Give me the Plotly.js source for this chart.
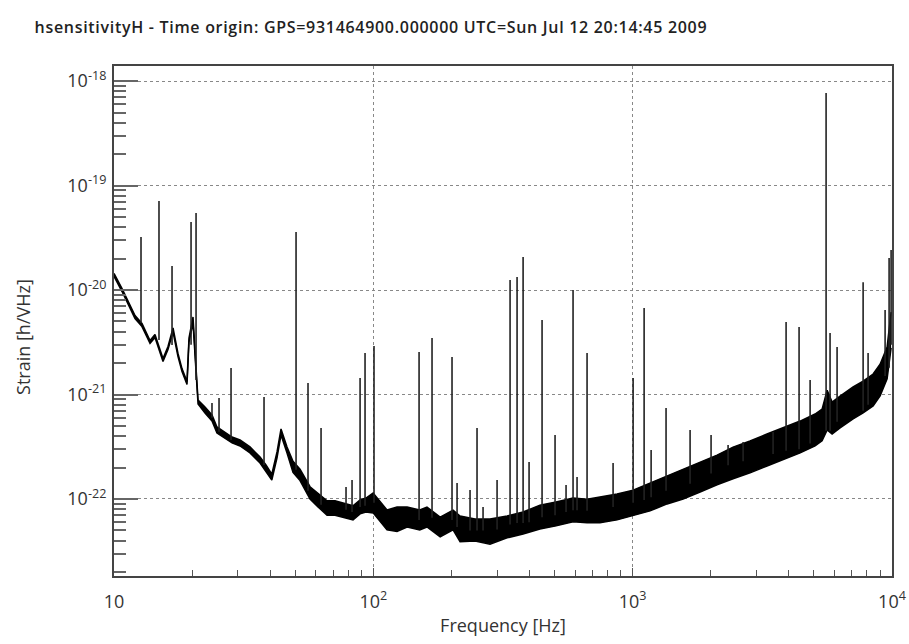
<!DOCTYPE html>
<html>
<head>
<meta charset="utf-8">
<script src="https://cdn.plot.ly/plotly-3.0.1.min.js"></script>
<style>html,body{margin:0;padding:0;background:#fff;}#chart{width:909px;height:644px;}
#chart .gtitle{letter-spacing:0.7px;}</style>
</head>
<body>
<div id="chart"></div>
<script>
// Noise floor band (frequency in Hz, lower and upper edge of the band in strain/sqrt(Hz))
const floorFreq = [10.0, 10.74, 12.05, 12.82, 13.77, 14.39, 15.45, 16.15, 16.89, 17.65, 18.29, 19.12, 19.46, 20.17, 20.72, 21.09,
  22.43, 23.87, 24.95, 26.80, 28.52, 30.62, 33.45, 36.57, 38.56, 40.6, 42.52, 44.06, 46.47, 49.0, 52.16, 57.0,
  61.19, 66.3, 71.16, 76.4, 83.5, 88.9, 93.7, 99.8, 106.1, 112.9, 123.4, 135, 151, 161, 181, 203, 216, 246.7,
  281.8, 328, 378, 439, 506.6, 589, 667, 748, 871, 1004, 1167, 1358, 1565, 1820, 2116, 2439, 2836, 3297, 3802,
  4424, 5051, 5375, 5623, 5875, 6307, 7080, 7738, 8457, 8997, 9575, 9920];
const floorLow = [1.35e-20, 9.67e-21, 5.34e-21, 4.47e-21, 3.08e-21, 3.51e-21, 2.07e-21, 2.70e-21, 3.96e-21, 2.31e-21, 1.66e-21, 1.25e-21, 3.18e-21, 4.83e-21, 1.64e-21, 8.11e-22,
  6.65e-22, 5.58e-22, 4.28e-22, 3.84e-22, 3.44e-22, 3.22e-22, 2.76e-22, 2.21e-22, 1.85e-22, 1.52e-22, 2.47e-22, 4.10e-22, 2.76e-22, 1.80e-22, 1.50e-22, 1.0e-22,
  8.4e-23, 7.0e-23, 7.0e-23, 6.7e-23, 6.3e-23, 7.2e-23, 7.5e-23, 7.36e-23, 6.04e-23, 5.06e-23, 4.9e-23, 5.40e-23, 5.06e-23, 5.40e-23, 4.34e-23, 5.06e-23, 3.9e-23, 3.97e-23,
  3.7e-23, 4.25e-23, 4.63e-23, 5.17e-23, 5.53e-23, 6.04e-23, 5.91e-23, 5.91e-23, 6.31e-23, 6.89e-23, 7.69e-23, 8.97e-23, 1.0e-22, 1.165e-22, 1.37e-22, 1.56e-22, 1.78e-22, 2.07e-22, 2.37e-22,
  2.76e-22, 3.22e-22, 3.60e-22, 4.58e-22, 4.19e-22, 4.79e-22, 5.84e-22, 6.66e-22, 7.78e-22, 9.70e-22, 1.41e-21, 2.79e-21];
const floorHigh = [1.44e-20, 1.034e-20, 5.70e-21, 4.78e-21, 3.29e-21, 3.75e-21, 2.21e-21, 2.88e-21, 4.33e-21, 2.47e-21, 1.77e-21, 1.33e-21, 3.47e-21, 5.52e-21, 1.79e-21, 8.86e-22,
  7.59e-22, 6.37e-22, 4.89e-22, 4.38e-22, 3.92e-22, 3.67e-22, 3.15e-22, 2.52e-22, 2.12e-22, 1.73e-22, 2.82e-22, 4.68e-22, 3.15e-22, 2.30e-22, 1.93e-22, 1.31e-22,
  1.14e-22, 9.6e-23, 9.6e-23, 9.2e-23, 8.6e-23, 9.8e-23, 1.02e-22, 1.14e-22, 9.34e-23, 7.84e-23, 8.37e-23, 8.37e-23, 7.84e-23, 8.37e-23, 6.71e-23, 7.84e-23, 6.87e-23, 6.42e-23,
  6.42e-23, 6.87e-23, 7.50e-23, 8.74e-23, 9.34e-23, 1.02e-22, 9.97e-23, 1.043e-22, 1.114e-22, 1.216e-22, 1.417e-22, 1.657e-22, 1.93e-22, 2.26e-22, 2.63e-22, 3.14e-22, 3.59e-22, 4.19e-22, 4.77e-22,
  5.57e-22, 6.50e-22, 7.25e-22, 1.10e-21, 8.46e-22, 9.66e-22, 1.18e-21, 1.34e-21, 1.57e-21, 1.95e-21, 2.84e-21, 6.15e-21];

// Spectral lines: frequency (Hz), strain at the foot of the line, strain at the peak
const lineFreq = [12.71, 14.91, 16.74, 19.82, 20.72, 23.87, 25.41, 28.27, 37.89, 50.35, 55.99, 62.86, 78.47, 82.77, 88.9, 92.9, 100.6,
  150.1, 168.4, 201.1, 210.3, 236.0, 251.1, 264.9, 300.0, 336.7, 358.3, 378, 398.6, 447.3, 502.0, 553.5, 589, 610.3, 667,
  840.4, 1004, 1107, 1178, 1345, 1665, 2006, 2333, 2666, 3479, 3905, 4382, 4833, 5570, 5770, 6141, 7738, 8087, 9406, 9746, 9920];
const lineBase = [4.83e-21, 3.32e-21, 2.98e-21, 3.0e-21, 1.38e-21, 6.0e-22, 4.4e-22, 3.67e-22, 2.12e-22, 1.9e-22, 1.2e-22, 8.8e-23, 7.9e-23, 7.5e-23, 8.4e-23, 8.6e-23, 9.2e-23,
  6.3e-23, 6.6e-23, 6.3e-23, 5.4e-23, 5.0e-23, 5.0e-23, 5.0e-23, 5.1e-23, 5.7e-23, 5.9e-23, 5.9e-23, 6.0e-23, 6.7e-23, 7.0e-23, 7.5e-23, 7.8e-23, 7.8e-23, 7.7e-23,
  8.4e-23, 9.2e-23, 9.8e-23, 1.04e-22, 1.2e-22, 1.4e-22, 1.75e-22, 2.1e-22, 2.3e-22, 2.7e-22, 2.9e-22, 3.0e-22, 3.4e-22, 4.5e-22, 4.5e-22, 5.5e-22, 7.0e-22, 8.0e-22, 1.5e-21, 1.8e-21, 3.0e-21];
const linePeak = [3.22e-20, 7.11e-20, 1.70e-20, 4.47e-20, 5.46e-20, 8.29e-22, 9.26e-22, 1.79e-21, 9.46e-22, 3.59e-20, 1.29e-21, 4.78e-22, 1.30e-22, 1.52e-22, 1.44e-21, 2.50e-21, 2.91e-21,
  2.55e-21, 3.47e-21, 2.28e-21, 1.42e-22, 1.22e-22, 4.78e-22, 8.38e-23, 1.52e-22, 1.25e-20, 1.33e-20, 2.07e-20, 2.26e-22, 5.16e-21, 4.10e-22, 1.36e-22, 1.0e-20, 1.62e-22, 2.50e-21,
  2.21e-22, 1.44e-21, 6.73e-21, 2.94e-22, 7.43e-22, 4.57e-22, 4.10e-22, 3.29e-22, 3.51e-22, 4.38e-22, 4.94e-21, 4.43e-21, 1.38e-21, 7.68e-19, 3.88e-21, 2.85e-21, 1.19e-20, 2.50e-21, 6.44e-21, 2.02e-20, 2.41e-20];

const xTickVals = [10, 100, 1000, 10000];
const xTickText = ['10', '10<sup>2</sup>', '10<sup>3</sup>', '10<sup>4</sup>'];
const yTickVals = [1e-22, 1e-21, 1e-20, 1e-19, 1e-18];
const yTickText = ['10<sup>-22</sup>', '10<sup>-21</sup>', '10<sup>-20</sup>', '10<sup>-19</sup>', '10<sup>-18</sup>'];

function minorList(lo, hi) {
  const out = [];
  for (let e = lo; e <= hi; e++) for (let m = 2; m <= 9; m++) out.push(m * Math.pow(10, e));
  return out;
}

const sx = [], sy = [];
for (let i = 0; i < lineFreq.length; i++) {
  sx.push(lineFreq[i], lineFreq[i], null);
  sy.push(lineBase[i], linePeak[i], null);
}

const traces = [
  {x: floorFreq, y: floorLow, type: 'scatter', mode: 'lines', line: {color: '#000', width: 1.5}, hoverinfo: 'skip', showlegend: false},
  {x: floorFreq, y: floorHigh, type: 'scatter', mode: 'lines', line: {color: '#000', width: 1.5}, fill: 'tonexty', fillcolor: '#000', hoverinfo: 'skip', showlegend: false},
  {x: sx, y: sy, type: 'scatter', mode: 'lines', line: {color: '#222', width: 1.6}, connectgaps: false, hoverinfo: 'skip', showlegend: false}
];

const font = 'Open Sans, Noto Sans, sans-serif';
const layout = {
  width: 909, height: 644,
  margin: {l: 114, r: 17, t: 66, b: 68},
  paper_bgcolor: '#fff', plot_bgcolor: '#fff',
  showlegend: false,
  font: {family: font, color: '#333'},
  title: {text: 'hsensitivityH - Time origin: GPS=931464900.000000 UTC=Sun Jul 12 20:14:45 2009',
    x: 0.038, xanchor: 'left', y: 0.958, yanchor: 'middle',
    font: {family: font, size: 16, weight: 600, color: '#222'}},
  xaxis: {
    type: 'log', range: [1, 4], tickmode: 'array', tickvals: xTickVals, ticktext: xTickText,
    ticks: 'inside', ticklen: 8, tickwidth: 1, tickcolor: '#555',
    showgrid: true, gridcolor: '#888', griddash: 'dot', gridwidth: 1,
    showline: true, linecolor: '#444', linewidth: 2, mirror: true, zeroline: false,
    ticklabelstandoff: 8,
    tickfont: {family: font, size: 18, color: '#333'},
    minor: {tickvals: minorList(1, 3), ticks: 'inside', ticklen: 6, tickwidth: 1, tickcolor: '#555', showgrid: false},
    title: {text: 'Frequency [Hz]', font: {family: font, size: 18, color: '#333'}, standoff: 8}
  },
  yaxis: {
    type: 'log', range: [-22.737, -17.856], tickmode: 'array', tickvals: yTickVals, ticktext: yTickText,
    ticks: 'inside', ticklen: 24, tickwidth: 2, tickcolor: '#666',
    showgrid: true, gridcolor: '#888', griddash: 'dot', gridwidth: 1,
    showline: true, linecolor: '#444', linewidth: 2, mirror: true, zeroline: false,
    ticklabelstandoff: 2,
    tickfont: {family: font, size: 18, color: '#333'},
    minor: {tickvals: minorList(-23, -18), ticks: 'inside', ticklen: 12, tickwidth: 2, tickcolor: '#666', showgrid: false}
  },
  annotations: [{
    text: 'Strain [h/VHz]', textangle: -90, showarrow: false,
    xref: 'paper', yref: 'paper', x: -0.117, y: 0.4686, xanchor: 'center', yanchor: 'middle',
    font: {family: font, size: 18, color: '#333'}
  }]
};

Plotly.newPlot('chart', traces, layout, {staticPlot: true, displayModeBar: false});
</script>
</body>
</html>
